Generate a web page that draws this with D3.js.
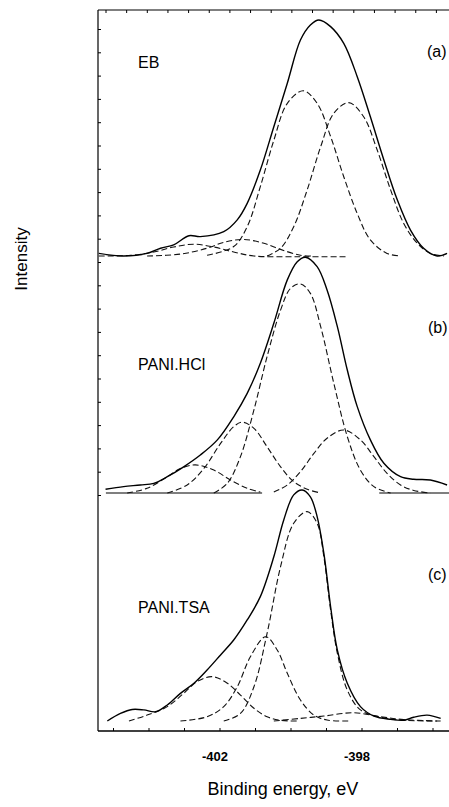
<!DOCTYPE html>
<html>
<head>
<meta charset="utf-8">
<script src="https://cdn.jsdelivr.net/npm/d3@7"></script>
<style>
  body { margin: 0; background: #fff; }
  svg text { font-family: "Liberation Sans", Arial, sans-serif; fill: #000; }
</style>
</head>
<body>
<div id="chart"></div>
<script>
// XPS N1s spectra, three samples stacked

// panel (a) EB  [binding energy eV, intensity]
var ebTotal = [[-405.4,1.1],[-404.7,0],[-404.04,1.1],[-403.66,3.3],[-403.29,4.7],[-402.86,8.6],[-402.54,8.2],
  [-401.88,10.3],[-401.5,15.3],[-401.22,22.3],[-400.85,36.4],[-400.47,54.8],[-400.09,73.2],[-399.72,91.5],
  [-399.44,97.9],[-399.2,100],[-398.87,97.2],[-398.5,90.1],[-398.12,76],[-397.75,59],[-397.37,40.7],
  [-396.99,23.7],[-396.62,11],[-396.25,3.3],[-395.87,0],[-395.59,1.1]];
var ebPeak1 = [[-402.35,0.3],[-401.6,4],[-401.22,12.4],[-400.85,29.4],[-400.47,49],[-400.09,64.7],[-399.64,70],
  [-399.25,64.7],[-398.87,50.6],[-398.5,33.6],[-398.12,18],[-397.75,6.8],[-397.28,1.1],[-396.9,0]];
var ebPeak2 = [[-400.66,0],[-400.28,3.3],[-399.91,12.4],[-399.53,28],[-399.15,46.3],[-398.78,60.5],[-398.36,65],
  [-397.94,59],[-397.56,45],[-397.18,28],[-396.81,13.8],[-396.43,5.4],[-396.06,1.1],[-395.68,0]];
var ebPeak3 = [[-404.04,0],[-403.1,0.8],[-402.35,3.3],[-401.88,5.8],[-401.32,7],[-400.75,5.4],[-400.28,2.8],
  [-399.72,0.3],[-399.34,0]];
var ebPeak4 = [[-405.4,0],[-404.5,0.3],[-403.85,1.7],[-403.29,3.8],[-402.72,5],[-402.16,3.8],[-401.6,1.7],
  [-401.03,0],[-399.8,-0.3],[-398.45,-0.3]];

// panel (b) PANI.HCl
var hclTotal = [[-405.21,1.6],[-404.7,2.7],[-404.23,3.4],[-403.85,4.1],[-403.47,6.9],[-403.01,11.1],[-402.54,16.1],
  [-402.06,22.5],[-401.6,32.3],[-401.22,42.2],[-400.85,55],[-400.47,71.9],[-400.09,90.3],[-399.81,98],
  [-399.58,99.9],[-399.25,95.9],[-398.97,86],[-398.68,70.5],[-398.4,52.1],[-398.12,36.6],[-397.75,22.5],
  [-397.37,12.6],[-396.9,6.9],[-396.53,5.8],[-396.06,5.5],[-395.59,3.4]];
var hclPeak1 = [[-402.16,0],[-401.78,4.1],[-401.41,15.4],[-401.03,35.2],[-400.66,57.8],[-400.28,77.5],[-400,86.7],
  [-399.72,88.6],[-399.44,84.6],[-399.15,70.5],[-398.78,46.5],[-398.4,23.9],[-398.03,9.7],[-397.65,2.7],[-397.18,0]];
var hclPeak2 = [[-403.47,0],[-402.91,3.4],[-402.44,10.4],[-401.97,21],[-401.6,28.1],[-401.36,30],[-401.03,27.4],
  [-400.66,19.6],[-400.28,11.1],[-399.91,4.8],[-399.53,1.6],[-399.15,0]];
var hclPeak3 = [[-404.6,0],[-404.04,2],[-403.47,6.9],[-403.1,10.4],[-402.68,11.9],[-402.16,9.7],[-401.69,5.5],
  [-401.22,2],[-400.85,0.4]];
var hclPeak4 = [[-400.47,0.4],[-400.09,3.4],[-399.72,9],[-399.34,16.8],[-398.97,23.2],[-398.5,26.7],[-398.03,22.5],
  [-397.65,15.4],[-397.28,8.3],[-396.9,3.4],[-396.53,1.1],[-396.06,0]];
var hclBase = [[[-405.2,0],[-400.8,0]],[[-397.5,0],[-395.5,0]]];

// panel (c) PANI.TSA
var tsaTotal = [[-405.16,0],[-404.79,3.2],[-404.46,4.9],[-404.13,4.7],[-403.8,3.9],[-403.47,6.8],[-403.1,11.7],
  [-402.72,16],[-402.35,21.6],[-401.97,28],[-401.6,34.3],[-401.22,42.8],[-400.85,52.7],[-400.47,69.6],
  [-400.19,85.2],[-399.91,95.8],[-399.67,97.9],[-399.44,95],[-399.25,86.6],[-399.06,71],[-398.87,48.4],
  [-398.68,30],[-398.4,16],[-398.03,6.1],[-397.65,2.1],[-397.18,0.7],[-396.81,0.3],[-396.53,1.6],
  [-396.15,2.5],[-395.77,1.1]];
var tsaPeak1 = [[-401.88,0],[-401.41,3.2],[-401.03,14.5],[-400.66,37.1],[-400.28,65.4],[-399.91,83.8],[-399.53,88.7],
  [-399.25,83.8],[-399.06,69.6],[-398.87,47],[-398.68,28.7],[-398.4,13.1],[-398.03,4.7],[-397.46,1.6],
  [-396.9,0.4],[-395.77,0]];
var tsaPeak2 = [[-403.1,0],[-402.35,1.8],[-401.88,6.1],[-401.5,14.5],[-401.13,27.2],[-400.7,35.7],[-400.37,30],
  [-400.09,20.2],[-399.72,8.9],[-399.34,2.5],[-398.97,0.4],[-398.31,0]];
var tsaPeak3 = [[-404.55,0],[-404.04,2.5],[-403.47,6.1],[-403.01,11.7],[-402.63,16.7],[-402.21,18.8],[-401.78,16],
  [-401.41,11],[-401.03,5.4],[-400.66,1.8],[-400.28,0.3],[-399.81,0]];
var tsaPeak4 = [[-400.47,0],[-399.72,1.1],[-399.06,2.1],[-398.22,3.5],[-397.46,1.8],[-396.81,0.6],[-395.87,0]];

var xTicks = [-405, -404, -403, -402, -401, -400, -399, -398, -397, -396];
var xLabels = [-402, -398];

var panels = [
  {name: "EB", tag: "(a)", total: ebTotal, peaks: [ebPeak1, ebPeak2, ebPeak3, ebPeak4], base: null},
  {name: "PANI.HCl", tag: "(b)", total: hclTotal, peaks: [hclPeak1, hclPeak2, hclPeak3, hclPeak4], base: hclBase},
  {name: "PANI.TSA", tag: "(c)", total: tsaTotal, peaks: [tsaPeak1, tsaPeak2, tsaPeak3, tsaPeak4], base: null}
];

// layout
var width = 449, height = 807;
var plotLeft = 98, plotTop = 10, plotBottom = 731;
var baselines = [256, 493, 721];   // zero line of each panel
var panelH = 236;                  // px for 100 units
var nameY = [68, 370, 613], tagY = [57, 333, 580], tagX = [427, 428, 428];

var x = d3.scaleLinear().domain([-402, -398]).range([219.5, 361.5]);

var svg = d3.select("#chart").append("svg")
    .attr("width", width)
    .attr("height", height);

svg.append("defs").append("clipPath").attr("id", "plotclip")
  .append("rect").attr("x", plotLeft).attr("y", plotTop)
  .attr("width", width - plotLeft).attr("height", plotBottom - plotTop);

// frame
svg.append("line").attr("x1", plotLeft).attr("x2", width).attr("y1", plotTop).attr("y2", plotTop)
  .attr("stroke", "#000").attr("stroke-width", 1.2);
svg.append("line").attr("x1", plotLeft).attr("x2", plotLeft).attr("y1", plotTop).attr("y2", plotBottom)
  .attr("stroke", "#000").attr("stroke-width", 1.2);

// top & left minor ticks (frame decoration)
var topTick = d3.scaleLinear().domain([0, 16]).range([106, 436.4]);
svg.append("g").selectAll("line").data(d3.range(17)).enter().append("line")
  .attr("x1", topTick).attr("x2", topTick).attr("y1", plotTop).attr("y2", plotTop + 3)
  .attr("stroke", "#000").attr("stroke-width", 1);
var leftTick = d3.scaleLinear().domain([0, 20]).range([29.5, 495.5]);
svg.append("g").selectAll("line").data(d3.range(21)).enter().append("line")
  .attr("y1", leftTick).attr("y2", leftTick).attr("x1", plotLeft).attr("x2", plotLeft + 3)
  .attr("stroke", "#000").attr("stroke-width", 1);

// bottom axis
var xAxis = d3.axisBottom(x).tickValues(xTicks).tickSizeInner(-3).tickSizeOuter(0)
  .tickFormat(function(d) { return xLabels.indexOf(d) >= 0 ? d : ""; });
var gx = svg.append("g").attr("transform", "translate(0," + plotBottom + ")").call(xAxis);
gx.select(".domain").remove();
gx.append("line").attr("x1", plotLeft).attr("x2", width).attr("stroke", "#000").attr("stroke-width", 1.3);
gx.selectAll(".tick line").attr("stroke", "#000");
gx.selectAll(".tick text")
  .attr("y", 21).attr("dx", -5)
  .style("font-family", "'Liberation Sans', Arial, sans-serif")
  .style("font-size", "13px").style("font-weight", "bold").attr("fill", "#000");

var plot = svg.append("g").attr("clip-path", "url(#plotclip)");

panels.forEach(function(p, i) {
  var y = d3.scaleLinear().domain([0, 100]).range([baselines[i], baselines[i] - panelH]);
  var smooth = d3.line()
    .x(function(d) { return x(d[0]); })
    .y(function(d) { return y(d[1]); })
    .curve(d3.curveCatmullRom.alpha(0.5));
  var straight = d3.line()
    .x(function(d) { return x(d[0]); })
    .y(function(d) { return y(d[1]); });

  if (p.base) {
    plot.append("g").selectAll("path").data(p.base).enter().append("path")
      .attr("d", straight)
      .attr("fill", "none").attr("stroke", "#000").attr("stroke-width", 1.2);
  }

  plot.append("g").selectAll("path").data(p.peaks).enter().append("path")
    .attr("d", smooth)
    .attr("fill", "none")
    .attr("stroke", "#111")
    .attr("stroke-width", 1.1)
    .attr("stroke-dasharray", "6,3");

  plot.append("path").datum(p.total)
    .attr("d", smooth)
    .attr("fill", "none")
    .attr("stroke", "#000")
    .attr("stroke-width", 1.4);

  svg.append("text").attr("x", 138).attr("y", nameY[i])
    .style("font-size", "16px").text(p.name);
  svg.append("text").attr("x", tagX[i]).attr("y", tagY[i])
    .style("font-size", "16px").text(p.tag);
});

// axis titles
svg.append("text")
  .attr("transform", "translate(27,259) rotate(-90)")
  .attr("text-anchor", "middle")
  .style("font-size", "17px")
  .text("Intensity");

svg.append("text")
  .attr("x", 283).attr("y", 795)
  .attr("text-anchor", "middle")
  .style("font-size", "18px")
  .text("Binding energy, eV");
</script>
</body>
</html>
